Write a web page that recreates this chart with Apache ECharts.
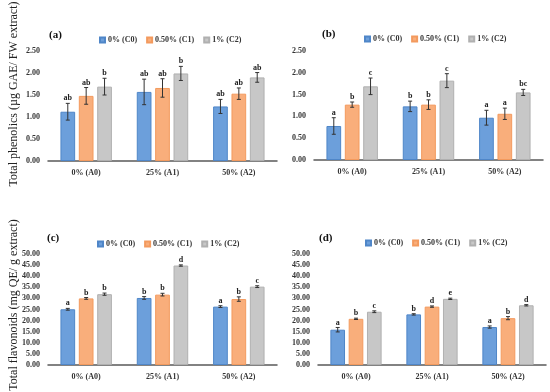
<!DOCTYPE html>
<html>
<head>
<meta charset="utf-8">
<script src="https://cdn.jsdelivr.net/npm/echarts@6/dist/echarts.min.js"></script>
<style>html,body{margin:0;padding:0;background:#fff;}#c{width:550px;height:392px;}</style>
</head>
<body>
<div id="c"></div>
<script>
const categories = ['0% (A0)', '25% (A1)', '50% (A2)'];
const seriesNames = ['0% (C0)', '0.50% (C1)', '1% (C2)'];
const panelTitles = ['(a)', '(b)', '(c)', '(d)'];
const yNameTop = 'Total phenolics (µg GAE/ FW extract)';
const yNameBottom = 'Total flavonoids (mg QE/ g extract)';
const yTicksTop = [0, 0.5, 1.0, 1.5, 2.0, 2.5];
const yTicksBottom = [0, 5, 10, 15, 20, 25, 30, 35, 40, 45, 50];

// Panel (a)
const aC0 = [1.12, 1.57, 1.24];
const aC1 = [1.48, 1.66, 1.53];
const aC2 = [1.69, 1.99, 1.90];
const aErrC0 = [0.19, 0.29, 0.16];
const aErrC1 = [0.19, 0.21, 0.13];
const aErrC2 = [0.19, 0.16, 0.11];
const aLetC0 = ['ab', 'ab', 'ab'];
const aLetC1 = ['ab', 'ab', 'ab'];
const aLetC2 = ['b', 'b', 'ab'];

// Panel (b)
const bC0 = [0.78, 1.23, 0.97];
const bC1 = [1.27, 1.27, 1.06];
const bC2 = [1.69, 1.82, 1.55];
const bErrC0 = [0.19, 0.12, 0.17];
const bErrC1 = [0.06, 0.11, 0.13];
const bErrC2 = [0.19, 0.16, 0.07];
const bLetC0 = ['a', 'b', 'a'];
const bLetC1 = ['b', 'b', 'a'];
const bLetC2 = ['c', 'c', 'bc'];

// Panel (c)
const cC0 = [25.1, 30.2, 26.3];
const cC1 = [30.0, 31.7, 29.7];
const cC2 = [31.9, 44.8, 35.3];
const cErrC0 = [0.4, 0.6, 0.4];
const cErrC1 = [0.4, 0.6, 1.0];
const cErrC2 = [0.5, 0.3, 0.4];
const cLetC0 = ['a', 'b', 'a'];
const cLetC1 = ['b', 'b', 'b'];
const cLetC2 = ['b', 'd', 'c'];

// Panel (d)
const dC0 = [15.9, 22.8, 17.1];
const dC1 = [20.8, 26.3, 21.1];
const dC2 = [24.0, 29.8, 26.9];
const dErrC0 = [1.0, 0.3, 0.5];
const dErrC1 = [0.3, 0.3, 0.7];
const dErrC2 = [0.4, 0.3, 0.3];
const dLetC0 = ['a', 'b', 'a'];
const dLetC1 = ['b', 'd', 'b'];
const dLetC2 = ['c', 'e', 'd'];

const panels = [
  { vals: [aC0, aC1, aC2], errs: [aErrC0, aErrC1, aErrC2], lets: [aLetC0, aLetC1, aLetC2], ticks: yTicksTop },
  { vals: [bC0, bC1, bC2], errs: [bErrC0, bErrC1, bErrC2], lets: [bLetC0, bLetC1, bLetC2], ticks: yTicksTop },
  { vals: [cC0, cC1, cC2], errs: [cErrC0, cErrC1, cErrC2], lets: [cLetC0, cLetC1, cLetC2], ticks: yTicksBottom },
  { vals: [dC0, dC1, dC2], errs: [dErrC0, dErrC1, dErrC2], lets: [dLetC0, dLetC1, dLetC2], ticks: yTicksBottom }
];

const SERIF = '"Liberation Serif", "DejaVu Serif", serif';
const fills = ['#6c9fdb', '#f9ae7b', '#c7c7c7'];
const borders = ['#4f86c8', '#f39a5e', '#b0b0b0'];

const grids = [
  { left: 48, top: 51, width: 229, height: 110 },
  { left: 314, top: 51, width: 229, height: 109 },
  { left: 48, top: 254, width: 229, height: 111 },
  { left: 318, top: 254, width: 228, height: 111 }
];
const titlePos = [[44, 25], [317, 24], [42, 228], [314, 228]];
const legendPos = [[94, 31], [359, 30], [92, 235], [360, 234]];

const BAR_CAT_GAP = 0.326;
const BAR_GAP = 0.25;

const option = {
  animation: false,
  backgroundColor: '#ffffff',
  title: panelTitles.map((t, i) => ({
    text: t, left: titlePos[i][0], top: titlePos[i][1],
    textStyle: { fontFamily: SERIF, fontWeight: 'bold', fontSize: 11, color: '#111' }
  })),
  legend: panels.map((p, i) => ({
    data: seriesNames, left: legendPos[i][0], top: legendPos[i][1],
    icon: 'rect', itemWidth: 5, itemHeight: 5, itemGap: 9,
    textStyle: { fontFamily: SERIF, fontWeight: 'bold', fontSize: 8, color: '#333', padding: [0, 0, 0, -2] },
    selectedMode: false
  })),
  grid: grids,
  xAxis: grids.map((g, i) => ({
    type: 'category', gridIndex: i, data: categories,
    axisLine: { lineStyle: { color: '#595959', width: 1.5 } },
    axisTick: { show: false },
    axisLabel: { fontFamily: SERIF, fontWeight: 'bold', fontSize: 8, color: '#333', margin: 8 }
  })),
  yAxis: panels.map((p, i) => ({
    type: 'value', gridIndex: i, min: p.ticks[0], max: p.ticks[p.ticks.length - 1],
    interval: p.ticks[1] - p.ticks[0],
    axisLine: { show: false }, axisTick: { show: false },
    splitLine: { show: false },
    axisLabel: { fontFamily: SERIF, fontWeight: 'bold', fontSize: 8, color: '#333', margin: 8,
      formatter: v => v.toFixed(2) }
  })),
  graphic: [
    { type: 'text', x: 14, y: 94, rotation: Math.PI / 2,
      style: { text: yNameTop, font: '12px ' + SERIF, fill: '#222', textAlign: 'center', textVerticalAlign: 'middle' } },
    { type: 'text', x: 14, y: 305, rotation: Math.PI / 2,
      style: { text: yNameBottom, font: '12px ' + SERIF, fill: '#222', textAlign: 'center', textVerticalAlign: 'middle' } }
  ],
  series: []
};

panels.forEach((p, pi) => {
  seriesNames.forEach((name, si) => {
    option.series.push({
      type: 'bar', name: name, xAxisIndex: pi, yAxisIndex: pi,
      data: p.vals[si],
      barGap: (BAR_GAP * 100) + '%', barCategoryGap: (BAR_CAT_GAP * 100) + '%',
      itemStyle: { color: fills[si], borderColor: borders[si], borderWidth: 1 }
    });
  });
  const errData = [];
  const letFlat = [];
  seriesNames.forEach((name, si) => {
    categories.forEach((c, ci) => {
      errData.push([ci, si, p.vals[si][ci], p.errs[si][ci]]);
      letFlat.push(p.lets[si][ci]);
    });
  });
  option.series.push({
    type: 'custom', name: 'err' + pi, xAxisIndex: pi, yAxisIndex: pi,
    data: errData, encode: { x: 0, y: 2 }, z: 5,
    renderItem: function (params, api) {
      const ci = api.value(0), si = api.value(1), v = api.value(2), e = api.value(3);
      const band = api.size([1, 0])[0];
      const total = band * (1 - BAR_CAT_GAP);
      const w = total / (3 + 2 * BAR_GAP);
      const off = (si - 1) * w * (1 + BAR_GAP);
      const top = api.coord([ci, v + e]);
      const bot = api.coord([ci, v - e]);
      const x = top[0] + off;
      const cap = 2;
      return {
        type: 'group',
        children: [
          { type: 'line', shape: { x1: x, y1: top[1], x2: x, y2: bot[1] }, style: { stroke: '#333', lineWidth: 1 } },
          { type: 'line', shape: { x1: x - cap, y1: top[1], x2: x + cap, y2: top[1] }, style: { stroke: '#333', lineWidth: 1 } },
          { type: 'line', shape: { x1: x - cap, y1: bot[1], x2: x + cap, y2: bot[1] }, style: { stroke: '#333', lineWidth: 1 } },
          { type: 'text', x: x, y: top[1] - 1,
            style: { text: letFlat[params.dataIndex], font: 'bold 8px ' + SERIF, fill: '#222', textAlign: 'center', textVerticalAlign: 'bottom' } }
        ]
      };
    }
  });
});

const chart = echarts.init(document.getElementById('c'), null, { renderer: 'canvas' });
chart.setOption(option);
</script>
</body>
</html>
